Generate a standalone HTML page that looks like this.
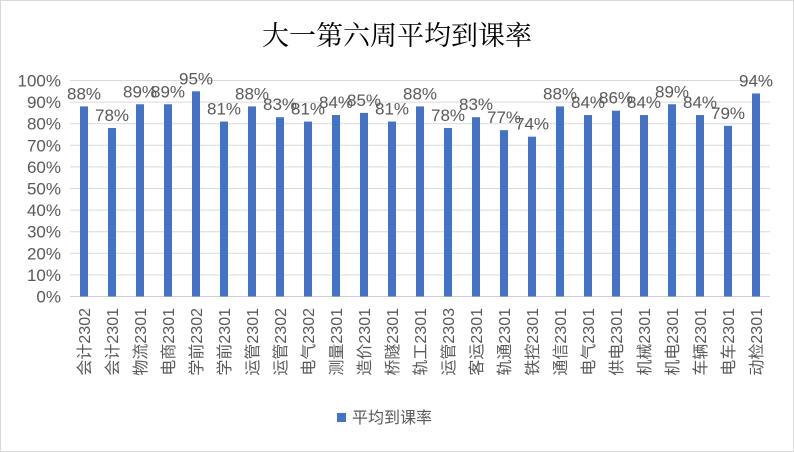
<!DOCTYPE html>
<html><head><meta charset="utf-8"><style>
html,body{margin:0;padding:0;background:#fff}
svg{display:block}
text{font-family:"Liberation Sans","Noto Sans CJK SC",sans-serif;fill:#595959}
</style></head><body>
<svg width="794" height="452" viewBox="0 0 794 452" xmlns="http://www.w3.org/2000/svg">
<rect x="0.5" y="0.5" width="793" height="451" fill="#fff" stroke="#d9d9d9"/>
<text x="397" y="45" text-anchor="middle" font-size="27" style="font-family:'Noto Serif CJK SC','Noto Sans CJK SC',serif;fill:#000">大一第六周平均到课率</text>
<g id="grid" stroke="#d9d9d9" stroke-width="1"></g>
<g id="ylab" font-size="17" text-anchor="end"></g>
<g id="bars" fill="#4472c4"></g>
<g id="dl" font-size="17" text-anchor="middle" style="fill:#404040"></g>
<g id="xl" font-size="16" text-anchor="end"></g>
<rect x="337" y="413" width="9" height="9" fill="#4472c4"/>
<text x="352" y="423" font-size="16">平均到课率</text>
</svg>
<script>
(function(){
var ns="http://www.w3.org/2000/svg";
function el(p,t,a,txt){var e=document.createElementNS(ns,t);for(var k in a)e.setAttribute(k,a[k]);if(txt!=null)e.textContent=txt;document.getElementById(p).appendChild(e);}
var y0=296.5,h=21.6;
for(var i=0;i<=10;i++){var y=y0-i*h;el("grid","line",{x1:70,x2:770,y1:y,y2:y,stroke:i==0?"#d0d0d0":"#d9d9d9"});el("ylab","text",{x:61,y:y+6},(i*10)+"%");}
var n=["会计2302","会计2301","物流2301","电商2301","学前2302","学前2301","运管2301","运管2302","电气2302","测量2301","造价2301","桥隧2301","轨工2301","运管2303","客运2301","轨通2301","铁控2301","通信2301","电气2301","供电2301","机械2301","机电2301","车辆2301","电车2301","动检2301"];
var v=[88,78,89,89,95,81,88,83,81,84,85,81,88,78,83,77,74,88,84,86,84,89,84,79,94];
for(var i=0;i<25;i++){var cx=84+i*28,ty=y0-v[i]*h/10;
el("bars","rect",{x:cx-4,y:ty,width:8,height:y0-ty});
el("dl","text",{x:cx,y:ty-7},v[i]+"%");
el("xl","text",{x:cx+6,y:308,transform:"rotate(-90 "+(cx+6)+" 308)"},n[i]);}
})();
</script>
</body></html>
